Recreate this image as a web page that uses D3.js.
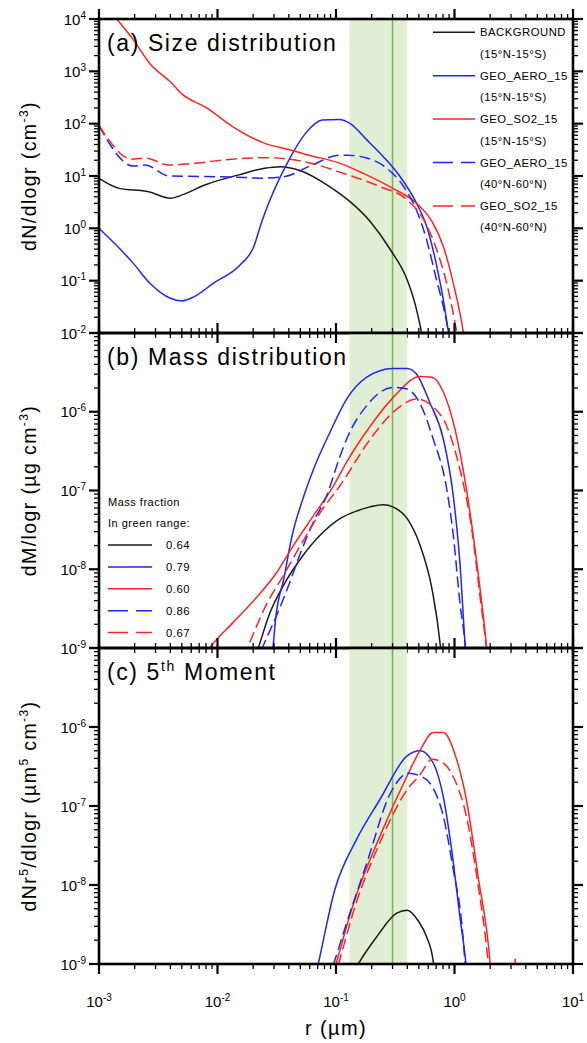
<!DOCTYPE html>
<meta charset="utf-8">
<style>
    body { margin: 0; background: #fff; }
    text { font-family: "Liberation Sans", Arial, Helvetica, sans-serif; fill: #000; }
</style>
<svg width="587" height="1043"></svg>
<script src="https://cdn.jsdelivr.net/npm/d3@7"></script>
<script>
    // every series is a list of [r (um), value]
    // (a) size distribution, dN/dlogr (cm-3)
    var sizeBackground = [[0.001, 9.0], [0.00148, 5.8], [0.00263, 5.0], [0.004, 3.75], [0.0051, 4.4], [0.0079, 6.8], [0.0151, 10.5], [0.025, 14.1], [0.034, 15.1], [0.049, 12.9], [0.089, 6.2], [0.106, 4.7], [0.132, 3.2], [0.195, 1.34], [0.288, 0.39], [0.40, 0.102], [0.468, 0.034], [0.528, 0.01], [0.56, 0.005]];
    var sizeAeroTrop = [[0.001, 1.0], [0.00195, 0.214], [0.00269, 0.089], [0.004, 0.046], [0.005, 0.041], [0.0063, 0.049], [0.0092, 0.089], [0.0155, 0.2], [0.02, 0.42], [0.0239, 1.45], [0.0401, 20.4], [0.0555, 66], [0.0766, 117], [0.106, 120], [0.132, 100], [0.182, 49], [0.251, 23.4], [0.347, 9.8], [0.479, 3.0], [0.582, 1.1], [0.708, 0.19], [0.805, 0.043], [0.891, 0.01], [0.933, 0.005]];
    var sizeSo2Trop = [[0.001, 25000], [0.00141, 10000], [0.00195, 4000], [0.00269, 1400], [0.004, 630], [0.005, 370], [0.0081, 200], [0.0135, 87], [0.0251, 42], [0.0398, 32], [0.0589, 25], [0.106, 17.8], [0.17, 11.2], [0.302, 5.8], [0.479, 3.0], [0.646, 1.35], [0.805, 0.45], [0.977, 0.089], [1.19, 0.01], [1.26, 0.004]];
    var sizeAeroMid = [[0.001, 91], [0.00195, 15.5], [0.00245, 16.2], [0.0039, 10], [0.0071, 9.8], [0.0135, 9.5], [0.0251, 9.1], [0.0372, 9.8], [0.063, 16.2], [0.106, 25], [0.123, 25], [0.182, 22], [0.269, 14], [0.372, 6.3], [0.479, 2.2], [0.582, 0.6], [0.708, 0.1], [0.805, 0.032], [0.891, 0.01], [0.933, 0.005]];
    var sizeSo2Mid = [[0.001, 93], [0.0019, 21], [0.00245, 22], [0.0039, 16.2], [0.0069, 17.8], [0.0132, 21], [0.0251, 22.4], [0.0372, 21.4], [0.063, 17.4], [0.106, 12], [0.234, 6.3], [0.398, 3.5], [0.55, 1.45], [0.708, 0.39], [0.859, 0.089], [1.047, 0.01], [1.12, 0.004]];

    // (b) mass distribution, dM/logr (ug cm-3)
    var massBackground = [[0.0181, 4e-10], [0.0221, 1.0e-9], [0.0277, 2.8e-9], [0.0359, 6.2e-9], [0.0501, 1.35e-8], [0.0733, 2.7e-8], [0.108, 4.4e-8], [0.15, 5.5e-8], [0.251, 6.6e-8], [0.302, 6.2e-8], [0.407, 4.2e-8], [0.513, 2.0e-8], [0.646, 5.6e-9], [0.759, 1.07e-9], [0.794, 5e-10]];
    var massAeroTrop = [[0.0263, 3.2e-10], [0.0295, 1.07e-9], [0.0309, 2.3e-9], [0.0363, 7.6e-9], [0.0427, 2.7e-8], [0.0525, 7.8e-8], [0.0646, 1.86e-7], [0.089, 5.5e-7], [0.123, 1.45e-6], [0.182, 2.75e-6], [0.302, 3.55e-6], [0.398, 3.55e-6], [0.479, 3.0e-6], [0.617, 1.32e-6], [0.805, 4.5e-7], [0.977, 8.5e-8], [1.11, 1.23e-8], [1.23, 1.07e-9], [1.29, 4e-10]];
    var massSo2Trop = [[0.0063, 5e-10], [0.0089, 1.07e-9], [0.0135, 2.1e-9], [0.0214, 4.4e-9], [0.0316, 9.1e-9], [0.0437, 2.0e-8], [0.0646, 4.8e-8], [0.0955, 1.15e-7], [0.123, 2.3e-7], [0.195, 6.6e-7], [0.302, 1.5e-6], [0.513, 2.8e-6], [0.646, 2.75e-6], [0.805, 1.78e-6], [1.01, 6.0e-7], [1.26, 1.05e-7], [1.54, 1.23e-8], [1.86, 1.07e-9], [1.95, 5e-10]];
    var massAeroMid = [[0.0182, 4e-10], [0.0243, 1.07e-9], [0.0316, 2.6e-9], [0.0407, 6.8e-9], [0.0501, 1.6e-8], [0.0646, 4.0e-8], [0.0832, 8.5e-8], [0.107, 2.6e-7], [0.123, 4.5e-7], [0.182, 1.2e-6], [0.302, 2.04e-6], [0.398, 1.95e-6], [0.513, 1.26e-6], [0.661, 4.5e-7], [0.859, 1.05e-7], [0.977, 2.7e-8], [1.11, 3.8e-9], [1.23, 1.07e-9], [1.29, 4e-10]];
    var massSo2Mid = [[0.0146, 5e-10], [0.0182, 1.07e-9], [0.0257, 3.5e-9], [0.0359, 8.3e-9], [0.0501, 2.0e-8], [0.0733, 5.2e-8], [0.108, 1.15e-7], [0.195, 4.5e-7], [0.302, 9.8e-7], [0.479, 1.45e-6], [0.661, 1.15e-6], [0.859, 6.6e-7], [1.11, 1.86e-7], [1.40, 3.2e-8], [1.64, 4.6e-9], [1.85, 1.07e-9], [1.95, 5e-10]];

    // (c) 5th moment, dNr^5/dlogr (um^5 cm-3)
    var mom5Background = [[0.12, 5e-10], [0.157, 1.05e-9], [0.22, 2.2e-9], [0.325, 4.4e-9], [0.40, 4.8e-9], [0.495, 3.5e-9], [0.582, 2.2e-9], [0.662, 1.07e-9], [0.69, 5e-10]];
    var mom5AeroTrop = [[0.0596, 3.2e-10], [0.0708, 1.0e-9], [0.0977, 8.7e-9], [0.148, 3.7e-8], [0.234, 1.2e-7], [0.398, 4.3e-7], [0.513, 5.0e-7], [0.661, 3.5e-7], [0.805, 1.3e-7], [0.946, 2.8e-8], [1.11, 4.0e-9], [1.25, 1.0e-9], [1.32, 4e-10]];
    var mom5So2Trop = [[0.0875, 5e-10], [0.1, 1e-9], [0.141, 5.9e-9], [0.234, 4.1e-8], [0.398, 2.4e-7], [0.513, 5.1e-7], [0.661, 8.5e-7], [0.805, 8.5e-7], [1.01, 4.5e-7], [1.26, 1.2e-7], [1.58, 1.3e-8], [2.0, 1.0e-9], [2.14, 2.5e-10], [2.95, 4e-10], [3.27, 1.17e-9]];
    var mom5AeroMid = [[0.078, 4e-10], [0.0955, 1e-9], [0.123, 3.3e-9], [0.182, 1.9e-8], [0.288, 1.45e-7], [0.407, 2.6e-7], [0.513, 2.4e-7], [0.646, 1.78e-7], [0.805, 7.4e-8], [0.977, 1.55e-8], [1.15, 3.3e-9], [1.23, 1.0e-9], [1.29, 4e-10]];
    var mom5So2Mid = [[0.088, 4e-10], [0.105, 1e-9], [0.148, 5.9e-9], [0.234, 3.4e-8], [0.398, 1.6e-7], [0.513, 2.5e-7], [0.646, 3.9e-7], [0.805, 3.5e-7], [1.01, 2.1e-7], [1.26, 7.4e-8], [1.54, 1.3e-8], [1.93, 1.0e-9], [2.04, 4e-10]];

    var seriesNames = ["BACKGROUND", "GEO_AERO_15", "GEO_SO2_15", "GEO_AERO_15", "GEO_SO2_15"];
    var seriesRegions = ["(15°N-15°S)", "(15°N-15°S)", "(15°N-15°S)", "(40°N-60°N)", "(40°N-60°N)"];
    var massFractions = ["0.64", "0.79", "0.60", "0.86", "0.67"];
    var greenRange = [0.13, 0.4], greenLine = 0.3;
    var xTickExps = [-3, -2, -1, 0, 1];

    var colors = ["#1a1a1a", "#2323ff", "#ff2424", "#2323ff", "#ff2424"],
        dashed = [false, false, false, true, true];

    var svg = d3.select("svg");
    var x = d3.scaleLog().domain([1e-3, 1e1]).range([99, 573]);

    var panels = [
        { top: 19, bottom: 333, domain: [1e-2, 1e4], labels: [-2, -1, 0, 1, 2, 3, 4],
          series: [sizeBackground, sizeAeroTrop, sizeSo2Trop, sizeAeroMid, sizeSo2Mid],
          title: [["(a) Size distribution"]],
          ytitle: [["dN/dlogr (cm"], ["-3", 1], [")"]] },
        { top: 333, bottom: 648, domain: [1e-9, 1e-5], labels: [-9, -8, -7, -6],
          series: [massBackground, massAeroTrop, massSo2Trop, massAeroMid, massSo2Mid],
          title: [["(b) Mass distribution"]],
          ytitle: [["dM/logr (µg cm"], ["-3", 1], [")"]] },
        { top: 648, bottom: 964, domain: [1e-9, 1e-5], labels: [-9, -8, -7, -6],
          series: [mom5Background, mom5AeroTrop, mom5So2Trop, mom5AeroMid, mom5So2Mid],
          title: [["(c) 5"], ["th", 1], [" Moment"]],
          ytitle: [["dNr"], ["5", 1], ["/dlogr (µm"], ["5", 1], [" cm"], ["-3", 1], [")"]] }
    ];

    // text with superscripts: parts = [[string, isSup], ...]
    function richText(t, parts, supSize, shift) {
        var up = false;
        parts.forEach(function (p) {
            var s = t.append("tspan").text(p[0]);
            if (p[1] && !up) { s.attr("dy", -shift).attr("font-size", supSize); up = true; }
            else if (p[1]) { s.attr("font-size", supSize); }
            else if (up) { s.attr("dy", shift); up = false; }
        });
    }

    function logTicks(lo, hi) {
        var major = [], minor = [];
        for (var e = Math.round(Math.log10(lo)); e <= Math.round(Math.log10(hi)); e++) {
            major.push(Math.pow(10, e));
            for (var k = 2; k <= 9; k++) {
                var v = k * Math.pow(10, e);
                if (v < hi) minor.push(v);
            }
        }
        return { major: major, minor: minor };
    }

    var x0 = x.range()[0], x1 = x.range()[1];
    var xt = logTicks(1e-3, 1e1);

    panels.forEach(function (p, i) {
        var y = d3.scaleLog().domain(p.domain).range([p.bottom, p.top]);
        var g = svg.append("g");

        g.append("clipPath").attr("id", "clip" + i)
            .append("rect").attr("x", x0).attr("y", p.top)
            .attr("width", x1 - x0).attr("height", p.bottom - p.top);

        // green range of interest
        g.append("rect")
            .attr("x", x(greenRange[0])).attr("y", p.top)
            .attr("width", x(greenRange[1]) - x(greenRange[0]))
            .attr("height", p.bottom - p.top)
            .attr("fill", "#e0efd3");
        g.append("line")
            .attr("x1", x(greenLine)).attr("x2", x(greenLine))
            .attr("y1", p.top).attr("y2", p.bottom)
            .attr("stroke", "#7ab756").attr("stroke-width", 1.6);

        var line = d3.line()
            .x(function (d) { return x(d[0]); })
            .y(function (d) { return y(d[1]); })
            .curve(d3.curveMonotoneX);

        g.append("g").attr("clip-path", "url(#clip" + i + ")")
            .selectAll("path")
            .data(p.series)
            .enter().append("path")
            .attr("d", line)
            .attr("fill", "none")
            .attr("stroke", function (d, j) { return colors[j]; })
            .attr("stroke-width", 1.5)
            .attr("stroke-dasharray", function (d, j) { return dashed[j] ? "11,5" : null; });

        // ticks, pointing outward on all four sides
        var yt = logTicks(p.domain[0], p.domain[1]);
        var ticks = g.append("g").attr("stroke", "#000");
        function hTicks(vals, len, w) {
            vals.forEach(function (v) {
                ticks.append("line").attr("x1", x0 - len).attr("x2", x0).attr("y1", y(v)).attr("y2", y(v)).attr("stroke-width", w);
                ticks.append("line").attr("x1", x1).attr("x2", x1 + len).attr("y1", y(v)).attr("y2", y(v)).attr("stroke-width", w);
            });
        }
        function vTicks(vals, len, w) {
            vals.forEach(function (v) {
                ticks.append("line").attr("x1", x(v)).attr("x2", x(v)).attr("y1", p.top - len).attr("y2", p.top).attr("stroke-width", w);
                ticks.append("line").attr("x1", x(v)).attr("x2", x(v)).attr("y1", p.bottom).attr("y2", p.bottom + len).attr("stroke-width", w);
            });
        }
        hTicks(yt.major, 10, 2.2);
        hTicks(yt.minor, 5, 1.3);
        vTicks(xt.major, 10, 2.2);
        vTicks(xt.minor, 5, 1.3);

        g.append("rect")
            .attr("x", x0).attr("y", p.top)
            .attr("width", x1 - x0).attr("height", p.bottom - p.top)
            .attr("fill", "none").attr("stroke", "#000").attr("stroke-width", 2.6);

        // y tick labels
        p.labels.forEach(function (e) {
            var t = g.append("text")
                .attr("x", 86).attr("y", y(Math.pow(10, e)) + 5.5)
                .attr("text-anchor", "end").attr("font-size", 15);
            richText(t, [["10"], [String(e), 1]], 10, 6);
        });

        // panel title
        var tt = g.append("text").attr("x", 107).attr("y", p.top + 32)
            .attr("font-size", 23).attr("letter-spacing", 1.6);
        richText(tt, p.title, 14, 9);

        // y title
        var yc = (p.top + p.bottom) / 2;
        var yt2 = g.append("text")
            .attr("transform", "translate(36," + yc + ") rotate(-90)")
            .attr("text-anchor", "middle").attr("font-size", 19.5).attr("letter-spacing", 1.4);
        richText(yt2, p.ytitle, 12, 8);
    });

    // x tick labels and title under the last panel
    xTickExps.forEach(function (e) {
        var t = svg.append("text")
            .attr("x", x(Math.pow(10, e))).attr("y", 1007)
            .attr("text-anchor", "middle").attr("font-size", 15);
        richText(t, [["10"], [String(e), 1]], 10, 6);
    });
    svg.append("text")
        .attr("x", (x0 + x1) / 2).attr("y", 1035)
        .attr("text-anchor", "middle").attr("font-size", 20).attr("letter-spacing", 1.4)
        .text("r (µm)");

    // legend, panel (a)
    var legA = svg.append("g");
    seriesNames.forEach(function (name, j) {
        var cy = 32.3 + j * 43.4;
        legA.append("line")
            .attr("x1", 433).attr("x2", 475).attr("y1", cy).attr("y2", cy)
            .attr("stroke", colors[j]).attr("stroke-width", 1.5)
            .attr("stroke-dasharray", dashed[j] ? "20,8" : null);
        legA.append("text").attr("x", 480).attr("y", cy + 4).attr("font-size", 11.3)
            .attr("letter-spacing", 0.5).text(name);
        legA.append("text").attr("x", 480).attr("y", cy + 25.5).attr("font-size", 11.3)
            .attr("letter-spacing", 0.5).text(seriesRegions[j]);
    });

    // legend, panel (b)
    var legB = svg.append("g");
    legB.append("text").attr("x", 108).attr("y", 505.5).attr("font-size", 11)
        .attr("letter-spacing", 0.5).text("Mass fraction");
    legB.append("text").attr("x", 108).attr("y", 526.5).attr("font-size", 11)
        .attr("letter-spacing", 0.5).text("In green range:");
    massFractions.forEach(function (f, j) {
        var cy = 545 + j * 21.9;
        legB.append("line")
            .attr("x1", 108).attr("x2", 152).attr("y1", cy).attr("y2", cy)
            .attr("stroke", colors[j]).attr("stroke-width", 1.5)
            .attr("stroke-dasharray", dashed[j] ? "20,8" : null);
        legB.append("text").attr("x", 166).attr("y", cy + 4).attr("font-size", 11.3)
            .attr("letter-spacing", 0.5).text(f);
    });
</script>
